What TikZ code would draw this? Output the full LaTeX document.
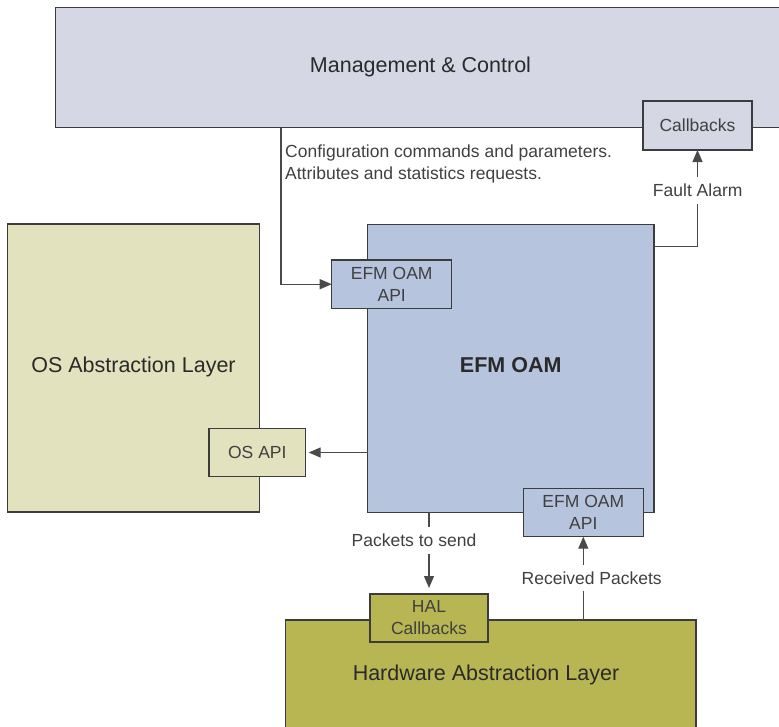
\documentclass[tikz,border=0pt]{standalone}
\usepackage{fontspec}
\setmainfont{Liberation Sans}
\usetikzlibrary{arrows.meta}
\definecolor{mcfill}{HTML}{D5D8E4}
\definecolor{efmfill}{HTML}{B7C4DD}
\definecolor{osfill}{HTML}{E2E2BF}
\definecolor{halfill}{HTML}{B8B653}
\definecolor{bordercol}{HTML}{3C3C3C}
\definecolor{linecol}{HTML}{4A4A4A}
\definecolor{titlecol}{HTML}{2A2A2A}
\definecolor{labelcol}{HTML}{404040}
\newcommand\lblfnt{\fontsize{17.5}{22}\selectfont}
\newcommand\ttlfnt{\fontsize{21.5}{24}\selectfont}
\begin{document}
\begin{tikzpicture}[x=1pt,y=-1pt,
  box/.style={draw=bordercol,line width=1.3pt,inner sep=0pt,outer sep=0pt,rectangle,text=labelcol,font=\lblfnt,align=center},
  title/.style={text=titlecol,font=\ttlfnt,anchor=base,inner sep=0pt},
  conn/.style={draw=linecol,line width=1.3pt},
  arr/.style={conn,-{Triangle[length=12pt,width=10pt]}},
  lab/.style={fill=white,text=labelcol,font=\lblfnt,inner xsep=2pt,inner ysep=7pt,anchor=base}
]
\useasboundingbox (0,0) rectangle (779,726);
\clip (0,0) rectangle (779,726);

% Management & Control
\node[box,fill=mcfill,minimum width=744.5pt,minimum height=120.2pt] (mc) at (427.75,67.4) {};
\node[title] (mctext) at (420.5,72) {Management \& Control};
\node[box,fill=mcfill,minimum width=109pt,minimum height=49pt] (cb) at (697.5,125.5) {Callbacks};

% OS Abstraction Layer
\node[box,fill=osfill,minimum width=252pt,minimum height=288pt] (os) at (133.5,368) {};
\node[title] (ostext) at (133.5,372) {OS Abstraction Layer};
\node[box,fill=osfill,minimum width=96.7pt,minimum height=48.4pt] (osapi) at (257.3,452.5) {OS API};

% EFM OAM
\node[box,fill=efmfill,minimum width=286.5pt,minimum height=287.8pt] (efm) at (510.75,368.4) {};
\node[title,font=\ttlfnt\bfseries] (efmtext) at (510.7,372) {EFM OAM};
\node[box,fill=efmfill,minimum width=120pt,minimum height=48.3pt] (api1) at (391.7,284.2) {EFM OAM\\API};
\node[box,fill=efmfill,minimum width=120pt,minimum height=48.4pt] (api2) at (583.3,512.5) {EFM OAM\\API};

% Hardware Abstraction Layer
\node[box,fill=halfill,minimum width=410.5pt,minimum height=110pt] (hal) at (490.75,675) {};
\node[title] (haltext) at (486,680) {Hardware Abstraction Layer};
\node[box,fill=halfill,minimum width=118pt,minimum height=48pt] (halcb) at (429,618) {HAL\\Callbacks};

% connectors
\coordinate (cfgtop) at (281,127.5);
\coordinate (fy) at (0,246.7);
\draw[arr] (cfgtop) |- (api1.west);
\draw[arr] (efm.east |- fy) -| (cb.south);
\draw[arr,shorten >=3pt] (efm.west |- osapi.east) -- (osapi.east);
\draw[arr,shorten >=6pt] (efm.south -| halcb.north) -- (halcb.north);
\draw[arr] (hal.north -| api2.south) -- (api2.south);

% labels
\node[font=\lblfnt,text=labelcol,anchor=north west,align=left,inner sep=0pt] (cfgtext) at (285,144.2) {Configuration commands and parameters.\\Attributes and statistics requests.};
\node[lab] (fault) at (697.7,196.7) {Fault Alarm};
\node[lab] (pkt) at (414,546.7) {Packets to send};
\node[lab] (rcv) at (591.7,584.3) {Received Packets};
\end{tikzpicture}
\end{document}
